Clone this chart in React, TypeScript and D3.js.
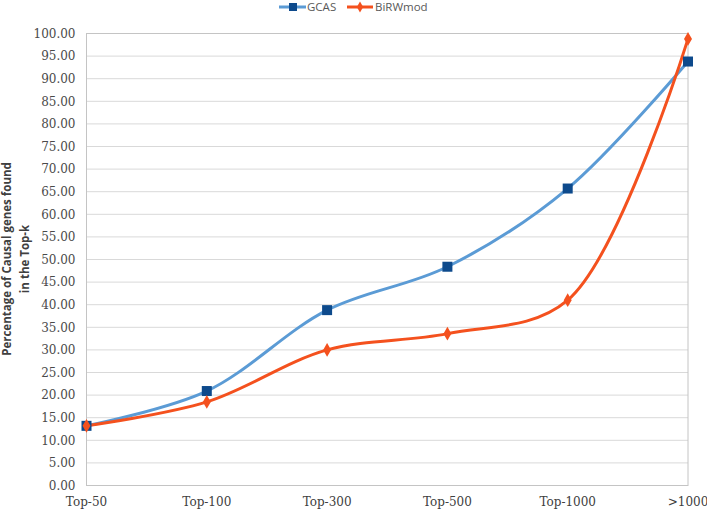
import React, { useEffect, useRef } from 'react';
import * as d3 from 'd3';

const categories = ['Top-50', 'Top-100', 'Top-300', 'Top-500', 'Top-1000', '>1000'];
const gcasValues = [13.2, 20.9, 38.8, 48.4, 65.7, 93.8];
const birwValues = [13.2, 18.5, 30.0, 33.6, 41.0, 98.8];
const yTicks = d3.range(0, 100.01, 5);

const W = 707;
const H = 509;

const App = () => {
  const svgRef = useRef(null);

  useEffect(() => {
    const svg = d3.select(svgRef.current);
    svg.selectAll('*').remove();

    const left = 86.5, right = 688, top = 33.5, bottom = 485.5;

    const x = d3.scalePoint().domain(categories).range([left, right]);
    const y = d3.scaleLinear().domain([0, 100]).range([bottom, top]);

    // grid lines
    svg.append('g')
      .selectAll('line')
      .data(yTicks)
      .enter()
      .append('line')
      .attr('x1', left)
      .attr('x2', right)
      .attr('y1', d => y(d))
      .attr('y2', d => y(d))
      .attr('stroke', '#d9d9d9')
      .attr('stroke-width', 1);

    // plot border
    svg.append('rect')
      .attr('x', left)
      .attr('y', top)
      .attr('width', right - left)
      .attr('height', bottom - top)
      .attr('fill', 'none')
      .attr('stroke', '#c4c4c4');

    // y labels
    svg.append('g')
      .selectAll('text')
      .data(yTicks)
      .enter()
      .append('text')
      .attr('x', left - 11)
      .attr('y', d => y(d))
      .attr('dy', '0.35em')
      .attr('text-anchor', 'end')
      .attr('font-family', 'DejaVu Serif')
      .attr('font-size', 12)
      .attr('fill', '#4a4a4a')
      .text(d => d.toFixed(2));

    // x labels
    svg.append('g')
      .selectAll('text')
      .data(categories)
      .enter()
      .append('text')
      .attr('x', d => x(d))
      .attr('y', bottom + 20)
      .attr('text-anchor', 'middle')
      .attr('font-family', 'DejaVu Serif')
      .attr('font-size', 12)
      .attr('fill', '#404040')
      .text(d => d);

    // y axis title (two lines, rotated)
    const title = svg.append('text')
      .attr('transform', 'translate(11,259) rotate(-90)')
      .attr('text-anchor', 'middle')
      .attr('font-family', 'Open Sans')
      .attr('font-weight', 'bold')
      .attr('font-size', 11.5)
      .attr('fill', '#404040');
    title.append('tspan').attr('x', 0).attr('dy', 0).text('Percentage of Causal  genes found');
    title.append('tspan').attr('x', 0).attr('dy', 18).text('in the Top-k');

    const line = d3.line()
      .x((d, i) => x(categories[i]))
      .y(d => y(d))
      .curve(d3.curveCatmullRom.alpha(0.5));

    svg.append('path')
      .attr('d', line(gcasValues))
      .attr('fill', 'none')
      .attr('stroke', '#5b9bd5')
      .attr('stroke-width', 3);

    svg.append('path')
      .attr('d', line(birwValues))
      .attr('fill', 'none')
      .attr('stroke', '#f4511e')
      .attr('stroke-width', 3);

    // markers
    svg.append('g')
      .selectAll('rect')
      .data(gcasValues)
      .enter()
      .append('rect')
      .attr('x', (d, i) => x(categories[i]) - 5)
      .attr('y', d => y(d) - 5)
      .attr('width', 10)
      .attr('height', 10)
      .attr('fill', '#0d4a8c');

    const diamond = d3.symbol().type(d3.symbolDiamond).size(55);
    svg.append('g')
      .selectAll('path')
      .data(birwValues)
      .enter()
      .append('path')
      .attr('d', diamond)
      .attr('transform', (d, i) => `translate(${x(categories[i])},${y(d)})`)
      .attr('fill', '#f4511e');

    // legend
    const lg = svg.append('g').attr('transform', 'translate(0,7)');
    lg.append('line').attr('x1', 279).attr('x2', 306).attr('y1', 0).attr('y2', 0)
      .attr('stroke', '#5b9bd5').attr('stroke-width', 3);
    lg.append('rect').attr('x', 289).attr('y', -4).attr('width', 8).attr('height', 8).attr('fill', '#0d4a8c');
    lg.append('text').attr('x', 307).attr('y', 0).attr('dy', '0.35em')
      .attr('font-family', 'Open Sans').attr('font-size', 11.5).attr('fill', '#595959').text('GCAS');
    lg.append('line').attr('x1', 347).attr('x2', 373).attr('y1', 0).attr('y2', 0)
      .attr('stroke', '#f4511e').attr('stroke-width', 3);
    lg.append('path').attr('d', d3.symbol().type(d3.symbolDiamond).size(35))
      .attr('transform', 'translate(360,0)').attr('fill', '#f4511e');
    lg.append('text').attr('x', 375).attr('y', 0).attr('dy', '0.35em')
      .attr('font-family', 'Open Sans').attr('font-size', 11.5).attr('fill', '#595959').text('BiRWmod');
  }, []);

  return (
    <svg
      ref={svgRef}
      width={W}
      height={H}
      style={{ position: 'absolute', left: 0, top: 0, background: '#fff' }}
    />
  );
};

export default App;
